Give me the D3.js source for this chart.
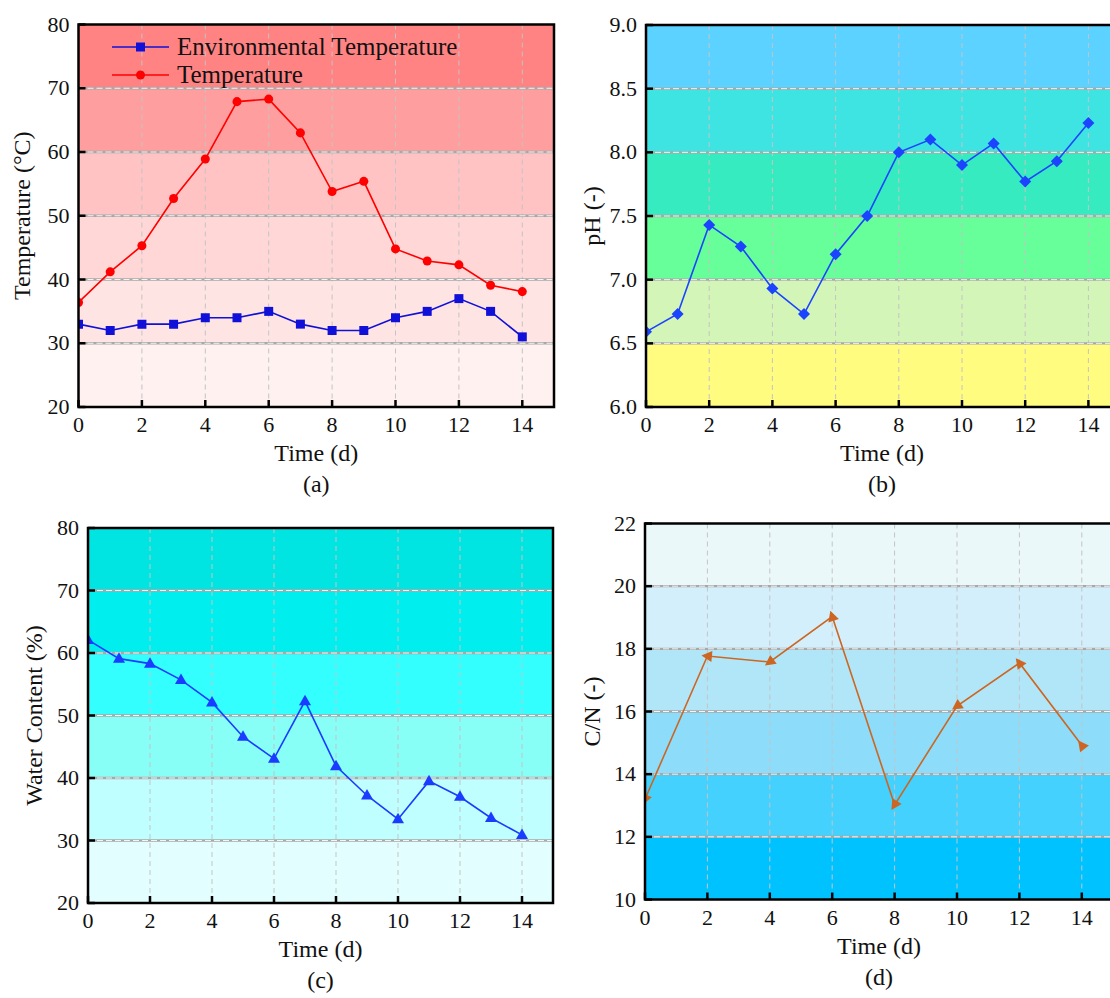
<!DOCTYPE html>
<html>
<head>
<meta charset="utf-8">
<script src="https://cdn.jsdelivr.net/npm/d3@7"></script>
<style>
  body { margin: 0; background: #fff; }
  svg { display: block; }
</style>
</head>
<body>
<svg id="chart" width="1110" height="998"></svg>
<script>
// ---------------- data ----------------
const daysDaily = [0, 1, 2, 3, 4, 5, 6, 7, 8, 9, 10, 11, 12, 13, 14];
const daysCN = [0, 2, 4, 6, 8, 10, 12, 14];
const xTickValues = [0, 2, 4, 6, 8, 10, 12, 14];

const envTemperature = [33, 32, 33, 33, 34, 34, 35, 33, 32, 32, 34, 35, 37, 35, 31];
const temperature = [36.4, 41.2, 45.3, 52.7, 58.9, 67.9, 68.3, 63.0, 53.8, 55.4, 44.8, 42.9, 42.3, 39.1, 38.1];
const pH = [6.59, 6.73, 7.43, 7.26, 6.93, 6.73, 7.20, 7.50, 8.00, 8.10, 7.90, 8.07, 7.77, 7.93, 8.23];
const waterContent = [62.1, 59.1, 58.3, 55.7, 52.1, 46.6, 43.1, 52.3, 41.9, 37.2, 33.4, 39.5, 37.0, 33.6, 30.9];
const cnRatio = [13.2, 17.77, 17.58, 19.03, 13.02, 16.17, 17.55, 14.92];

const tempTicks = [20, 30, 40, 50, 60, 70, 80];
const pHTicks = [6.0, 6.5, 7.0, 7.5, 8.0, 8.5, 9.0];
const waterTicks = [20, 30, 40, 50, 60, 70, 80];
const cnTicks = [10, 12, 14, 16, 18, 20, 22];

const legendLabels = ["Environmental Temperature", "Temperature"];
const panelLabels = ["(a)", "(b)", "(c)", "(d)"];
const yTitles = ["Temperature (°C)", "pH (-)", "Water Content (%)", "C/N (-)"];
const xTitle = "Time (d)";

// band colours (bottom to top)
const tempBandColors = ["#fef1ef", "#ffe4e4", "#ffd7d7", "#ffc3c3", "#ff9e9e", "#ff8383"];
const pHBandColors = ["#fffc80", "#d4f5b8", "#66ff99", "#36ebc0", "#3ee4e2", "#5bd2ff"];
const waterBandColors = ["#e3feff", "#c0ffff", "#88fff6", "#33ffff", "#00eeee", "#00e5e2"];
const cnBandColors = ["#00c2ff", "#44d1fd", "#8cdcfa", "#b1e6f8", "#d3effb", "#eaf8f9"];

// ---------------- drawing ----------------
const svg = d3.select("#chart");
const FONT = '"Liberation Serif", "Tinos", "Times New Roman", serif';
let clipId = 0;

function txt(sel, size) {
  return sel.attr("font-size", size).style("font-family", FONT).attr("fill", "#111");
}

function drawPanel(cfg) {
  const g = svg.append("g");
  const x = d3.scaleLinear().domain([0, 15]).range([cfg.left, cfg.right]);
  const y = d3.scaleLinear().domain([cfg.ticks[0], cfg.ticks[cfg.ticks.length - 1]]).range([cfg.bottom, cfg.top]);

  const id = "clip" + (clipId++);
  svg.append("defs").append("clipPath").attr("id", id)
    .append("rect").attr("x", cfg.left).attr("y", cfg.top)
    .attr("width", cfg.right - cfg.left).attr("height", cfg.bottom - cfg.top);

  const plot = g.append("g").attr("clip-path", `url(#${id})`);

  // bands
  const bands = cfg.ticks.slice(0, -1).map((t, i) => ({ lo: t, hi: cfg.ticks[i + 1], c: cfg.bandColors[i] }));
  plot.selectAll("rect.band").data(bands).join("rect")
    .attr("x", cfg.left).attr("width", cfg.right - cfg.left)
    .attr("y", d => y(d.hi)).attr("height", d => y(d.lo) - y(d.hi))
    .attr("fill", d => d.c);

  // vertical grid
  plot.selectAll("line.vg").data(xTickValues.filter(v => v > 0)).join("line")
    .attr("x1", d => x(d)).attr("x2", d => x(d))
    .attr("y1", cfg.top).attr("y2", cfg.bottom)
    .attr("stroke", "#c4c4c4").attr("stroke-width", 1).attr("stroke-dasharray", "5,4");

  // horizontal grid (gray line with white dashes)
  const inner = cfg.ticks.slice(1, -1);
  plot.selectAll("line.hg").data(inner).join("line")
    .attr("x1", cfg.left).attr("x2", cfg.right)
    .attr("y1", d => y(d)).attr("y2", d => y(d))
    .attr("stroke", "#a8a8a8").attr("stroke-width", 2.4);
  plot.selectAll("line.hg2").data(inner).join("line")
    .attr("x1", cfg.left).attr("x2", cfg.right)
    .attr("y1", d => y(d)).attr("y2", d => y(d))
    .attr("stroke", "#f4f4f4").attr("stroke-width", 1).attr("stroke-dasharray", "6,3");

  // series
  cfg.series.forEach(s => {
    const pts = s.x.map((xv, i) => [x(xv), y(s.y[i])]);
    plot.append("path").datum(pts)
      .attr("d", d3.line())
      .attr("fill", "none").attr("stroke", s.color).attr("stroke-width", 1.6);
    plot.selectAll(null).data(pts).join("path")
      .attr("fill", s.color)
      .attr("transform", (p, i) => {
        let ang = 0;
        if (s.arrow) {
          const q = i < pts.length - 1 ? pts[i + 1] : pts[i - 1];
          const sign = i < pts.length - 1 ? 1 : -1;
          ang = Math.atan2((p[1] - q[1]) * sign, (p[0] - q[0]) * sign) * 180 / Math.PI;
        }
        return `translate(${p[0]},${p[1]}) rotate(${ang})`;
      })
      .attr("d", s.marker);
  });

  // frame
  g.append("rect").attr("x", cfg.left).attr("y", cfg.top)
    .attr("width", cfg.right - cfg.left).attr("height", cfg.bottom - cfg.top)
    .attr("fill", "none").attr("stroke", "#000").attr("stroke-width", 2.5);

  // x ticks (inward) and labels
  g.selectAll("line.xt").data(xTickValues).join("line")
    .attr("x1", d => x(d)).attr("x2", d => x(d))
    .attr("y1", cfg.bottom).attr("y2", cfg.bottom - 7)
    .attr("stroke", "#000").attr("stroke-width", 2.5);
  txt(g.selectAll("text.xl").data(xTickValues).join("text")
    .attr("x", d => x(d)).attr("y", cfg.bottom + 25)
    .attr("text-anchor", "middle"), 22)
    .text(d => d);

  // y ticks and labels
  g.selectAll("line.yt").data(cfg.ticks).join("line")
    .attr("x1", cfg.left).attr("x2", cfg.left + 7)
    .attr("y1", d => y(d)).attr("y2", d => y(d))
    .attr("stroke", "#000").attr("stroke-width", 2.5);
  txt(g.selectAll("text.yl").data(cfg.ticks).join("text")
    .attr("x", cfg.left - 9).attr("y", d => y(d) + 7)
    .attr("text-anchor", "end"), 22)
    .text(d => cfg.fmt(d));

  // titles
  txt(g.append("text").attr("x", (cfg.left + cfg.axisRight) / 2).attr("y", cfg.bottom + 54)
    .attr("text-anchor", "middle"), 24).text(xTitle);
  txt(g.append("text").attr("x", (cfg.left + cfg.axisRight) / 2).attr("y", cfg.bottom + 85)
    .attr("text-anchor", "middle"), 24).text(cfg.label);
  txt(g.append("text")
    .attr("transform", `translate(${cfg.yTitleX},${(cfg.top + cfg.bottom) / 2}) rotate(-90)`)
    .attr("text-anchor", "middle"), 24).text(cfg.yTitle);

  return { g, x, y };
}

const sq = "M-4.5,-4.5H4.5V4.5H-4.5Z";
const circ = d3.symbol(d3.symbolCircle, 64)();
const diamond = "M0,-6L6,0L0,6L-6,0Z";
const triUp = "M0,-6.5L6,4L-6,4Z";
const arrowTri = "M6,0L-4.5,-5.5L-4.5,5.5Z";

const f0 = d => d3.format("d")(d);
const f1 = d => d3.format(".1f")(d);

// (a)
const pa = drawPanel({
  left: 78.5, right: 554, top: 24.5, bottom: 407, axisRight: 554,
  ticks: tempTicks, fmt: f0, bandColors: tempBandColors,
  yTitle: yTitles[0], yTitleX: 30, label: panelLabels[0],
  series: [
    { x: daysDaily, y: envTemperature, color: "#1010d8", marker: sq },
    { x: daysDaily, y: temperature, color: "#ff0000", marker: circ }
  ]
});
// legend
const legendItems = [
  { label: legendLabels[0], color: "#1010d8", marker: sq },
  { label: legendLabels[1], color: "#ff0000", marker: circ }
];
const lg = pa.g.append("g");
legendItems.forEach((it, i) => {
  const ly = 47 + i * 28;
  lg.append("line").attr("x1", 112).attr("x2", 169).attr("y1", ly).attr("y2", ly)
    .attr("stroke", it.color).attr("stroke-width", 1.6);
  lg.append("path").attr("d", it.marker).attr("transform", `translate(140.5,${ly})`).attr("fill", it.color);
  txt(lg.append("text").attr("x", 177).attr("y", ly + 8), 25).text(it.label);
});

// (b)
drawPanel({
  left: 646, right: 1120, top: 25, bottom: 407, axisRight: 1118,
  ticks: pHTicks, fmt: f1, bandColors: pHBandColors,
  yTitle: yTitles[1], yTitleX: 600, label: panelLabels[1],
  series: [{ x: daysDaily, y: pH, color: "#1c44ff", marker: diamond }]
});

// (c)
drawPanel({
  left: 88, right: 553, top: 528, bottom: 903, axisRight: 553,
  ticks: waterTicks, fmt: f0, bandColors: waterBandColors,
  yTitle: yTitles[2], yTitleX: 42, label: panelLabels[2],
  series: [{ x: daysDaily, y: waterContent, color: "#1a3cff", marker: triUp }]
});

// (d)
drawPanel({
  left: 645, right: 1113, top: 523.5, bottom: 899.5, axisRight: 1113,
  ticks: cnTicks, fmt: f0, bandColors: cnBandColors,
  yTitle: yTitles[3], yTitleX: 600, label: panelLabels[3],
  series: [{ x: daysCN, y: cnRatio, color: "#cc6622", marker: arrowTri, arrow: true }]
});
</script>
</body>
</html>
